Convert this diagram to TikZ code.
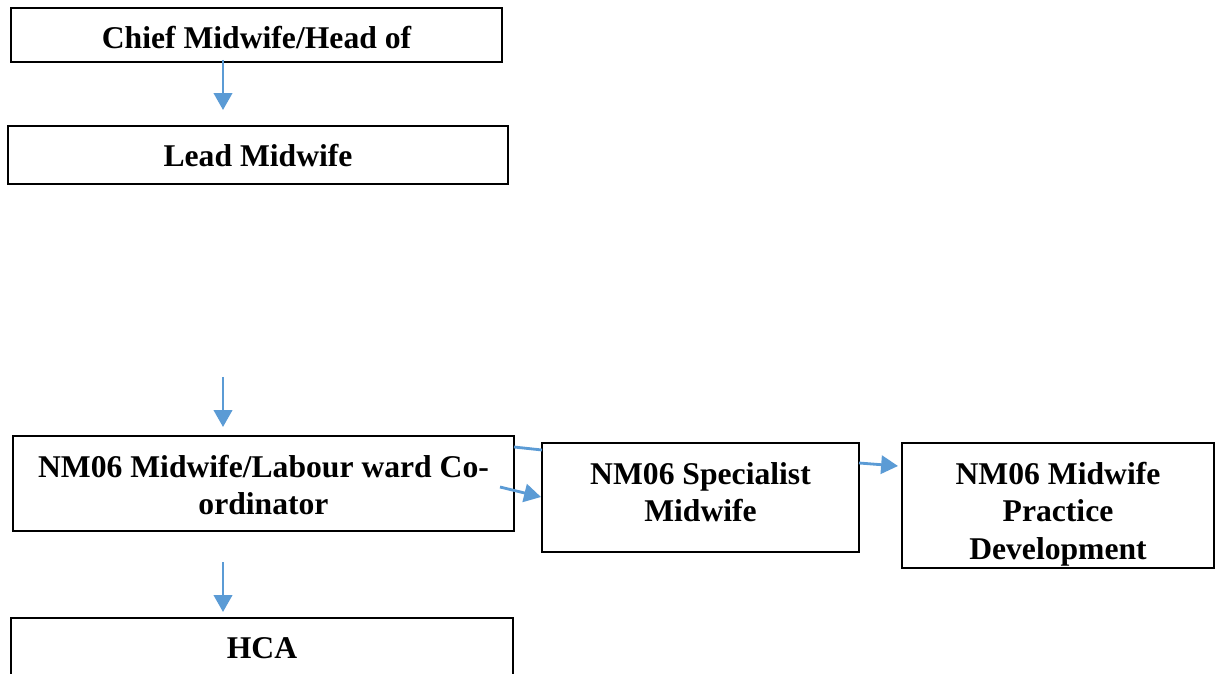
\documentclass[tikz,border=0pt]{standalone}
\usepackage{fontspec}
\setmainfont{Liberation Serif}
\usetikzlibrary{arrows.meta}
\definecolor{arrowblue}{HTML}{5B9BD5}
\tikzset{
  box/.style={draw=black, line width=1.4pt, inner sep=0pt},
  txt/.style={align=center, inner sep=0pt,
    font=\fontsize{22.5}{26.5}\selectfont\bfseries},
  link/.style={draw=arrowblue, line width=2pt},
  arr/.style={link, -{Triangle[width=13pt,length=12pt]}}
}

\begin{document}
\begin{tikzpicture}[x=0.025cm,y=-0.025cm]
  \useasboundingbox (0,0) rectangle (1221,674);
  % boxes
  \node[box, minimum width=12.275cm, minimum height=1.35cm] (chief) at (256.5,35) {};
  \node[box, minimum width=12.5cm, minimum height=1.45cm] (lead) at (258,155) {};
  \node[box, minimum width=12.525cm, minimum height=2.375cm] (coord) at (263.5,483.5) {};
  \node[box, minimum width=7.925cm, minimum height=2.725cm] (spec) at (700.5,497.5) {};
  \node[box, minimum width=7.8cm, minimum height=3.125cm] (pract) at (1058,505.5) {};
  \node[box, minimum width=12.55cm, minimum height=1.5cm] (hca) at (262,648) {};
  % texts
  \node[txt] (chiefText) at (256.5,38) {Chief Midwife/Head of};
  \node[txt] (leadText) at (258,156) {Lead Midwife};
  \node[txt] (coordText) at (263.5,485) {NM06 Midwife/Labour ward Co-\\ordinator};
  \node[txt] (specText) at (700.5,492) {NM06 Specialist\\Midwife};
  \node[txt] (practText) at (1058,514) {NM06 Midwife\\Practice\\Development};
  \node[txt] (hcaText) at (262,648) {HCA};
  % free ends of the connectors
  \coordinate (a1s) at (223,60);
  \coordinate (a1e) at (223,110);
  \coordinate (a2s) at (223,377);
  \coordinate (a2e) at (223,427);
  \coordinate (a3s) at (223,562);
  \coordinate (a3e) at (223,612);
  \coordinate (l1s) at (514,447);
  \coordinate (l1e) at (542,450);
  \coordinate (a4s) at (500,487);
  \coordinate (a4e) at (541,497);
  \coordinate (a5s) at (859,463);
  \coordinate (a5e) at (898,466);
  % connectors
  \draw[arr] (a1s) -- (a1e);
  \draw[arr] (a2s) -- (a2e);
  \draw[arr] (a3s) -- (a3e);
  \draw[link] (l1s) -- (l1e);
  \draw[arr] (a4s) -- (a4e);
  \draw[arr] (a5s) -- (a5e);
\end{tikzpicture}
\end{document}
